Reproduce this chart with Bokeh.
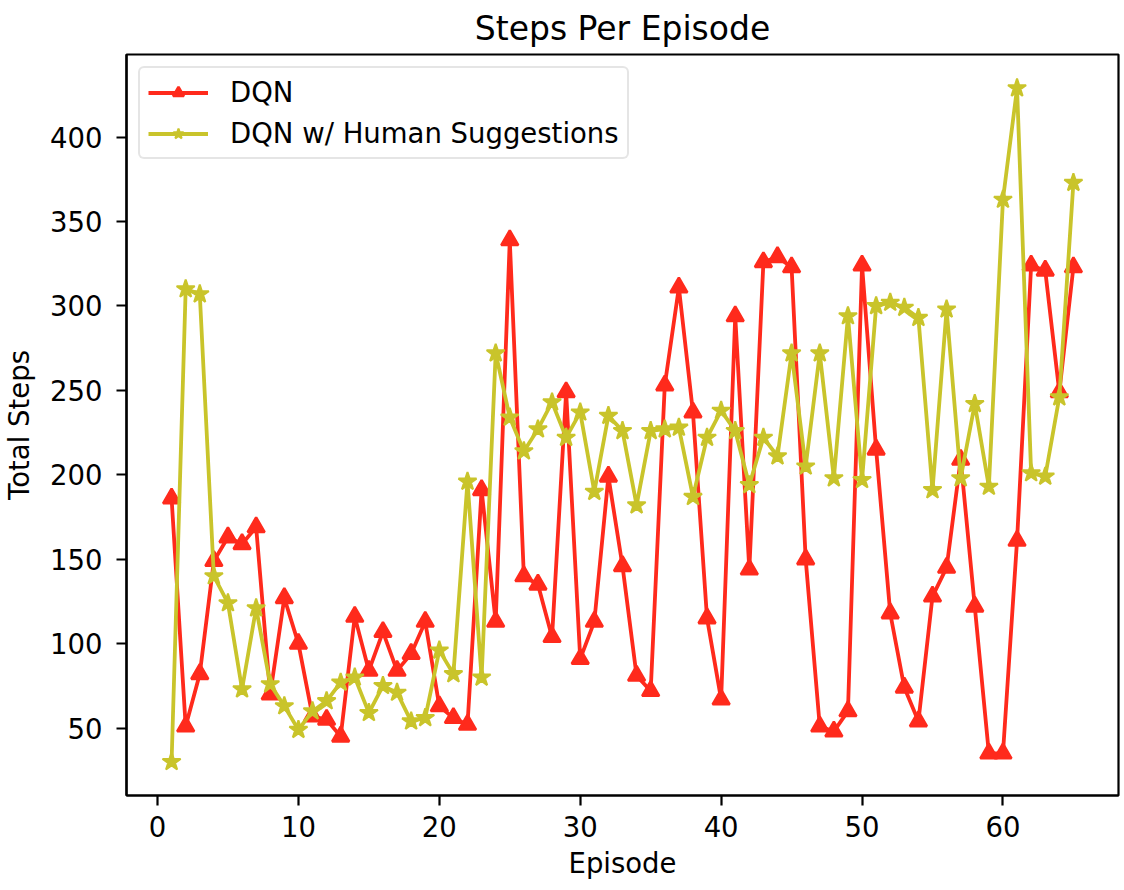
from bokeh.plotting import figure
from bokeh.models import Range1d, FixedTicker, Legend, LegendItem
from bokeh.embed import file_html
from bokeh.resources import INLINE

episodes = list(range(1, 66))
dqn = [186, 51, 82, 149, 163, 159, 169, 70, 127, 100,
       57, 55, 45, 116, 84, 107, 84, 94, 113, 63,
       56, 52, 191, 113, 339, 140, 135, 104, 249, 91,
       113, 199, 146, 81, 72, 253, 311, 237, 115, 67,
       294, 144, 326, 329, 323, 150, 51, 48, 60, 324,
       215, 118, 74, 54, 128, 145, 209, 122, 35, 35,
       161, 324, 321, 249, 323]
human = [30, 310, 307, 140, 124, 73, 121, 76, 63, 49,
         60, 66, 77, 80, 59, 75, 71, 54, 56, 96,
         82, 196, 80, 272, 234, 214, 227, 243, 222, 237,
         190, 235, 226, 182, 226, 227, 228, 187, 222, 238,
         226, 194, 222, 211, 272, 205, 272, 198, 294, 197,
         300, 302, 299, 293, 191, 298, 198, 242, 193, 363,
         429, 201, 199, 246, 373]
x_ticks = [0, 10, 20, 30, 40, 50, 60]
y_ticks = [50, 100, 150, 200, 250, 300, 350, 400]
series_names = ["DQN", "DQN w/ Human Suggestions"]

RED = "#ff2a1c"
YEL = "#c9c42b"
FONT = "DejaVu Sans"

ymin, ymax = min(min(dqn), min(human)), max(max(dqn), max(human))
ypad = 0.05 * (ymax - ymin)
xpad = 0.05 * (episodes[-1] - episodes[0])

p = figure(frame_width=992, frame_height=741,
           min_border_left=120, min_border_right=2,
           min_border_top=52, min_border_bottom=84,
           x_range=Range1d(episodes[0] - xpad, episodes[-1] + xpad),
           y_range=Range1d(ymin - ypad, ymax + ypad),
           output_backend="svg", toolbar_location=None,
           title="Steps Per Episode")

p.background_fill_color = "white"
p.border_fill_color = "white"
p.outline_line_color = "black"
p.outline_line_width = 2.2
p.xgrid.visible = False
p.ygrid.visible = False

p.title.align = "center"
p.title.text_font = FONT
p.title.text_font_size = "33px"
p.title.text_font_style = "normal"
p.title.text_color = "black"
p.title.standoff = 13

for ax in (p.xaxis[0], p.yaxis[0]):
    ax.axis_line_color = "black"
    ax.axis_line_width = 2.2
    ax.major_tick_line_color = "black"
    ax.major_tick_line_width = 2.2
    ax.major_tick_out = 10
    ax.major_tick_in = 0
    ax.minor_tick_line_color = None
    ax.major_label_text_font = FONT
    ax.major_label_text_font_size = "27.5px"
    ax.major_label_text_color = "black"
    ax.axis_label_text_font = FONT
    ax.axis_label_text_font_size = "27.5px"
    ax.axis_label_text_font_style = "normal"
    ax.axis_label_text_color = "black"

p.xaxis.ticker = FixedTicker(ticks=x_ticks)
p.yaxis.ticker = FixedTicker(ticks=y_ticks)
p.xaxis.axis_label = "Episode"
p.yaxis.axis_label = "Total Steps"
p.xaxis.major_label_standoff = 10
p.yaxis.major_label_standoff = 14
p.xaxis.axis_label_standoff = 7
p.yaxis.axis_label_standoff = 12

l1 = p.line(episodes, dqn, line_color=RED, line_width=3.8)
m1 = p.scatter(episodes, dqn, marker="triangle", size=17, fill_color=RED,
               line_color=RED, line_width=2.5)
l2 = p.line(episodes, human, line_color=YEL, line_width=3.8)
m2 = p.scatter(episodes, human, marker="star", size=19, fill_color=YEL,
               line_color=YEL, line_width=2)

legend = Legend(items=[LegendItem(label=series_names[0], renderers=[l1, m1]),
                       LegendItem(label=series_names[1], renderers=[l2, m2])],
                location="top_left")
legend.margin = 12
legend.padding = 8
legend.spacing = 9
legend.glyph_width = 60
legend.glyph_height = 27
legend.label_height = 27
legend.label_standoff = 22
legend.label_text_font = FONT
legend.label_text_font_size = "27.5px"
legend.label_text_color = "black"
legend.border_line_color = "#cccccc"
legend.border_line_width = 2
legend.border_radius = 6
legend.background_fill_color = "white"
legend.background_fill_alpha = 0.8
p.add_layout(legend)

open("out.html", "w").write(file_html(p, INLINE))
